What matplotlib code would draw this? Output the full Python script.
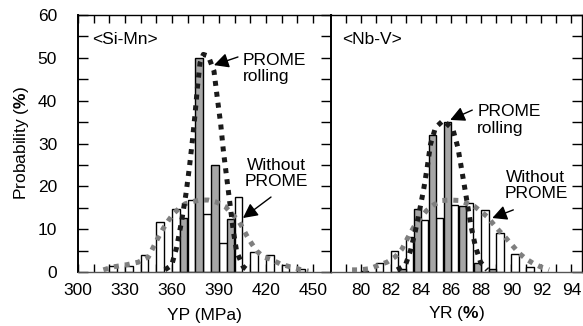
import matplotlib
matplotlib.use("Agg")
import matplotlib.pyplot as plt
import numpy as np

plt.rcParams['font.family'] = ['Liberation Sans', 'DejaVu Sans']
plt.rcParams['mathtext.fontset'] = 'custom'
plt.rcParams['mathtext.rm'] = 'Liberation Sans'
plt.rcParams['mathtext.bf'] = 'Liberation Sans:bold'

# ---------------- data ----------------
yp_starts = [310, 320, 330, 340, 350, 360, 370, 380, 390, 400, 410, 420, 430, 440]
yp_without = [0, 1.5, 1.5, 3.9, 11.6, 14.6, 16.7, 13.6, 6.8, 17.4, 4.6, 3.9, 1.7, 0.8]
yp_prome = [0, 0, 0, 0, 0, 12.5, 50, 25, 12.4, 0, 0, 0, 0, 0]

yp_prome_curve_x = [355.5, 359.8, 363.0, 366.2, 368.9, 371.1, 373.0, 374.7, 376.2, 377.9, 380.0,
                    383.2, 386.8, 388.9, 391.1, 392.8, 394.9, 397.0, 399.1, 401.3, 405.5, 409.8]
yp_prome_curve_y = [0.5, 1.6, 5.8, 12.0, 18.2, 24.4, 30.6, 36.8, 43.0, 48.8, 50.8,
                    50.4, 46.9, 40.7, 34.5, 28.3, 22.1, 15.9, 9.7, 4.7, 1.2, 0.0]
yp_without_curve_x = [316.2, 322.6, 331.1, 338.5, 344.9, 348.1, 351.3, 354.5, 357.7, 360.9, 364.1,
                      368.3, 372.6, 377.9, 383.2, 388.5, 393.9, 398.1, 402.4, 405.1, 407.7, 410.9,
                      414.1, 418.4, 423.7, 429.0, 435.4, 441.8, 447.1]
yp_without_curve_y = [0.5, 1.2, 1.7, 2.3, 3.5, 5.8, 8.1, 10.2, 12.0, 13.6, 14.7,
                      15.9, 16.4, 16.8, 16.8, 16.3, 15.3, 13.6, 12.0, 10.3, 8.5, 6.6,
                      4.9, 3.5, 2.9, 1.9, 1.2, 0.6, 0.2]

yr_starts = [80, 81, 82, 83, 84, 85, 86, 87, 88, 89, 90, 91]
yr_without = [0.3, 2.0, 4.9, 8.1, 12.1, 12.7, 15.7, 16.2, 14.4, 9.0, 4.2, 1.1]
yr_prome = [0, 0, 0.6, 14.6, 32, 35, 15.4, 2.0, 0.7, 0, 0, 0]

yr_prome_curve_x = [82.4, 82.95, 83.29, 83.62, 83.89, 84.17, 84.4, 84.62, 84.95, 85.47,
                    86.11, 86.44, 86.67, 86.89, 87.11, 87.33, 87.62, 87.95, 88.4]
yr_prome_curve_y = [0.5, 1.6, 5.0, 9.7, 14.3, 19.4, 24.4, 29.8, 33.7, 35.4,
                    33.3, 29.1, 24.4, 19.8, 15.1, 10.5, 5.8, 2.3, 0.5]
yr_without_curve_x = [79.4, 79.95, 80.62, 81.17, 81.73, 82.29, 82.73, 83.11, 83.51, 83.91,
                      84.35, 84.84, 85.4, 85.95, 86.51, 87.07, 87.55, 87.95, 88.4, 88.8,
                      89.17, 89.62, 90.07, 90.51, 90.95, 91.51, 91.95, 92.51]
yr_without_curve_y = [0.5, 0.5, 0.8, 1.6, 2.3, 3.6, 5.4, 8.0, 10.5, 12.4,
                      14.3, 15.7, 16.7, 16.8, 16.7, 16.0, 15.3, 14.2, 12.9, 11.2,
                      9.7, 8.0, 6.2, 4.4, 3.1, 1.9, 1.2, 0.5]

yp_ticklabels = ['300', '330', '360', '390', '420', '450']
yr_ticklabels = ['80', '82', '84', '86', '88', '90', '92', '94']

# ---------------- figure ----------------
W, H = 583, 326
fig = plt.figure(figsize=(W / 100, H / 100), dpi=100)
ax1 = fig.add_axes([78 / W, 1 - 272 / H, 253 / W, 257 / H])
ax2 = fig.add_axes([331 / W, 1 - 272 / H, 251 / W, 257 / H])

FS = 12.5
GRAY_BAR = '#a6a6a6'
CURVE_K = '#1a1a1a'
CURVE_G = '#7f7f7f'


def draw(ax, starts, wo, pr, step, cx1, cy1, cx2, cy2):
    half = step / 2.0
    s = np.array(starts, dtype=float)
    wo = np.array(wo, dtype=float)
    pr = np.array(pr, dtype=float)
    m = wo > 0
    ax.bar(s[m], wo[m], width=half * 0.96, align='edge', color='white',
           edgecolor='black', linewidth=1.0, zorder=2)
    m = pr > 0
    ax.bar(s[m] + half, pr[m], width=half * 0.96, align='edge', color=GRAY_BAR,
           edgecolor='black', linewidth=1.0, zorder=2)
    ax.plot(cx2, cy2, color=CURVE_G, linewidth=3.6, linestyle=(0, (1, 1.2)),
            dash_capstyle='butt', zorder=3)
    ax.plot(cx1, cy1, color=CURVE_K, linewidth=3.6, linestyle=(0, (1, 1.2)),
            dash_capstyle='butt', zorder=4)


draw(ax1, yp_starts, yp_without, yp_prome, 10,
     yp_prome_curve_x, yp_prome_curve_y, yp_without_curve_x, yp_without_curve_y)
draw(ax2, yr_starts, yr_without, yr_prome, 1,
     yr_prome_curve_x, yr_prome_curve_y, yr_without_curve_x, yr_without_curve_y)

ax1.set_xlim(300, 461.5)
ax2.set_xlim(78, 94.7)
for ax in (ax1, ax2):
    ax.set_ylim(0, 60)
    for sp in ax.spines.values():
        sp.set_linewidth(1.0)
        sp.set_color('black')
    ax.spines['bottom'].set_color('#555555')
ax1.spines['left'].set_linewidth(1.4)
ax2.spines['left'].set_linewidth(1.4)

# x ticks
ax1.set_xticks(np.arange(300, 451, 10))
ax1.set_xticklabels(['' if v % 30 else yp_ticklabels[(v - 300) // 30] for v in range(300, 451, 10)])
ax2.set_xticks(np.arange(79, 95, 1))
ax2.set_xticklabels(['' if v % 2 else yr_ticklabels[(v - 80) // 2] for v in range(79, 95)])

# y ticks
yt = np.arange(0, 61, 5)
ax1.set_yticks(yt)
ax1.set_yticklabels([str(int(v)) if v % 10 == 0 else '' for v in yt])
ax2.set_yticks(yt)
ax2.set_yticklabels([])

ax1.tick_params(axis='x', direction='in', top=True, bottom=True, length=6, width=1,
                labelsize=FS, pad=8)
ax2.tick_params(axis='x', direction='in', top=True, bottom=True, length=6, width=1,
                labelsize=FS, pad=8)
ax1.tick_params(axis='y', direction='in', left=True, right=True, length=7, width=1,
                labelsize=FS, pad=15)
ax2.tick_params(axis='y', direction='in', left=False, right=True, length=7, width=1,
                labelleft=False)

ax1.set_xlabel('YP (MPa)', fontsize=FS, labelpad=7)
ax2.set_xlabel(r'YR ($\mathbf{\%}$)', fontsize=FS, labelpad=4)
ax1.set_ylabel(r'Probability ($\mathbf{\%}$)', fontsize=FS, labelpad=5)

# annotations
ax1.text(308.9, 54.2, '<Si-Mn>', fontsize=FS, ha='left', va='center')
ax2.text(78.73, 54.2, '<Nb-V>', fontsize=FS, ha='left', va='center')

arrow = dict(arrowstyle='-|>,head_length=0.55,head_width=0.28', color='black', lw=1.0,
             mutation_scale=16, shrinkA=0, shrinkB=0)
ax1.text(405.0, 47.6, 'PROME\nrolling', fontsize=FS, ha='left', va='center',
         linespacing=1.1)
ax1.annotate('', xy=(386.8, 48.3), xytext=(402.1, 50.2), arrowprops=arrow)
ax1.text(426.7, 23.0, 'Without\nPROME', fontsize=FS, ha='center', va='center',
         linespacing=1.1)
ax1.annotate('', xy=(405.3, 12.6), xytext=(423.2, 17.5), arrowprops=arrow)

ax2.text(87.73, 35.5, 'PROME\nrolling', fontsize=FS, ha='left', va='center',
         linespacing=1.1)
ax2.annotate('', xy=(85.93, 35.5), xytext=(87.4, 37.8), arrowprops=arrow)
ax2.text(91.63, 20.2, 'Without\nPROME', fontsize=FS, ha='center', va='center',
         linespacing=1.1)
ax2.annotate('', xy=(88.73, 12.6), xytext=(90.13, 14.5), arrowprops=arrow)

fig.savefig('out.png', dpi=100)
